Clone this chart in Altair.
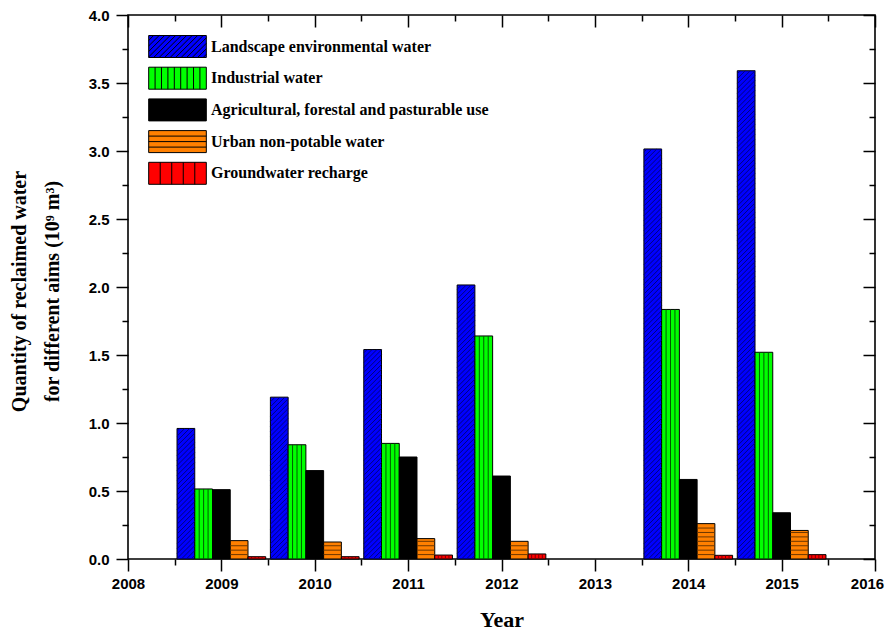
import altair as alt
import pandas as pd

# ---------------- data ----------------
years = [2009, 2010, 2011, 2012, 2014, 2015]
series_names = [
    "Landscape environmental water",
    "Industrial water",
    "Agricultural, forestal and pasturable use",
    "Urban non-potable water",
    "Groundwater recharge",
]
landscape = [0.96, 1.19, 1.54, 2.015, 3.015, 3.59]
industrial = [0.515, 0.84, 0.85, 1.64, 1.835, 1.52]
agricultural = [0.51, 0.65, 0.75, 0.61, 0.585, 0.34]
urban = [0.135, 0.125, 0.15, 0.13, 0.26, 0.21]
groundwater = [0.017, 0.017, 0.029, 0.037, 0.027, 0.032]

x_major = [2008, 2009, 2010, 2011, 2012, 2013, 2014, 2015, 2016]
x_minor = [2008.5, 2009.5, 2010.5, 2011.5, 2012.5, 2013.5, 2014.5, 2015.5]
y_major = [0.0, 0.5, 1.0, 1.5, 2.0, 2.5, 3.0, 3.5, 4.0]
y_minor = [0.25, 0.75, 1.25, 1.75, 2.25, 2.75, 3.25, 3.75]

# ---------------- styling ----------------
fill_colors = ["#0000FF", "#00FF00", "#000000", "#FF8000", "#FF0000"]
hatch_kinds = ["diag", "vgreen", "horiz", "vred"]
hatch_colors = ["#000080", "#005A00", "#6E3700", "#7A0000"]
BAR_W = 0.19          # bar width in years
GROUP_START = -0.475  # left edge of a group relative to its year

values_by_series = [landscape, industrial, agricultural, urban, groundwater]

rows = []
for i, (name, vals) in enumerate(zip(series_names, values_by_series)):
    for yr, v in zip(years, vals):
        x0 = yr + GROUP_START + BAR_W * i
        rows.append(dict(series=name, year=yr, value=v, x0=x0, x1=x0 + BAR_W))
bars_df = pd.DataFrame(rows)

# ---------------- hatch lines derived from the bars ----------------
RISE = 0.1304     # value units risen across one bar width (45 deg on screen)
DIAG_STEP = 0.036
HORIZ_STEP = 0.0325
hatch_a, hatch_b = [], []
for _, b in bars_df.iterrows():
    idx = series_names.index(b.series)
    if idx == 0:
        k = 1
        while True:
            ys = -RISE + DIAG_STEP * k - 0.01
            if ys >= b.value:
                break
            t0 = max(0.0, (0.0 - ys) / RISE)
            t1 = min(1.0, (b.value - ys) / RISE)
            if t1 > t0:
                hatch_a.append(dict(kind="diag",
                                    xa=b.x0 + t0 * BAR_W, xb=b.x0 + t1 * BAR_W,
                                    ya=ys + t0 * RISE, yb=ys + t1 * RISE))
            k += 1
    elif idx == 1:
        for f in (0.25, 0.5, 0.75):
            hatch_b.append(dict(kind="vgreen", xa=b.x0 + f * BAR_W, xb=b.x0 + f * BAR_W,
                                ya=0.0, yb=b.value))
    elif idx == 3:
        k = 1
        while HORIZ_STEP * k < b.value - 0.008:
            hatch_a.append(dict(kind="horiz", xa=b.x0, xb=b.x1,
                                ya=HORIZ_STEP * k, yb=HORIZ_STEP * k))
            k += 1
    elif idx == 4:
        for f in (0.2, 0.4, 0.6, 0.8):
            hatch_b.append(dict(kind="vred", xa=b.x0 + f * BAR_W, xb=b.x0 + f * BAR_W,
                                ya=0.0, yb=b.value))
hatch_a_df = pd.DataFrame(hatch_a)
hatch_b_df = pd.DataFrame(hatch_b)

# ---------------- legend symbol paths (box + hatch strokes) ----------------
HW = 2.62
box = f"M{-HW},-1H{HW}V1H{-HW}Z"


def diag_path():
    p = box
    c = -HW - 2 + 0.45
    while c < HW:
        xa, xb = max(-HW, c), min(HW, c + 2)
        if xb > xa:
            p += f"M{xa:.3f},{1 - (xa - c):.3f}L{xb:.3f},{1 - (xb - c):.3f}"
        c += 0.5
    return p


def vert_path(n):
    p = box
    for k in range(1, n):
        x = -HW + k * 2 * HW / n
        p += f"M{x:.3f},-1V1"
    return p


def horiz_path(n):
    p = box
    for k in range(1, n):
        y = -1 + k * 2 / n
        p += f"M{-HW},{y:.3f}H{HW}"
    return p


shape_paths = [diag_path(), vert_path(9), box, horiz_path(4), vert_path(5)]

# ---------------- scales ----------------
xscale = alt.Scale(domain=[2008, 2016], nice=False, zero=False)
yscale = alt.Scale(domain=[0, 4], nice=False)
cscale = alt.Scale(domain=series_names, range=fill_colors)
sscale = alt.Scale(domain=series_names, range=shape_paths)
hscale = alt.Scale(domain=hatch_kinds, range=hatch_colors)

TICK_FONT = "Liberation Sans"
SERIF = "Liberation Serif"


def tick_axis(orient, values, size, offset=0):
    return alt.Axis(orient=orient, values=values, tickSize=size, offset=offset,
                    labels=False, domain=False, grid=False, ticks=True,
                    tickColor="black", tickWidth=1.5, title=None)


x_axis_main = alt.Axis(
    orient="bottom", values=x_major, format="d", tickSize=12, tickWidth=1.5,
    tickColor="black", domain=False, grid=False,
    labelFont=TICK_FONT, labelFontWeight="bold", labelFontSize=15,
    labelColor="black", labelPadding=5, labelFlush=False, labelOverlap=False,
    labelOffset={"condition": {"test": "datum.value >= 2016", "value": -8}, "value": 0},
    title="Year", titleFont=SERIF, titleFontSize=22, titleFontWeight="bold",
    titleColor="black", titleY=67, titleBaseline="alphabetic",
)
y_axis_main = alt.Axis(
    orient="left", values=y_major, format=".1f", tickSize=12, tickWidth=1.5,
    tickColor="black", domain=False, grid=False,
    labelFont=TICK_FONT, labelFontWeight="bold", labelFontSize=15,
    labelColor="black", labelPadding=7, labelFlush=False, labelOverlap=False,
    title=["Quantity of reclaimed water", "for different aims (10\u2079 m\u00b3)"],
    titleFont=SERIF, titleFontSize=20, titleFontWeight="bold", titleColor="black",
    titleLineHeight=33, titleAngle=270, titleAlign="center", titleBaseline="middle",
    titleX=-109, titleY=276,
)

legend = alt.Legend(
    title=None, orient="none", legendX=38, legendY=20, direction="vertical",
    symbolSize=484, symbolStrokeColor="black", symbolStrokeWidth=1,
    labelFont=SERIF, labelFontWeight="bold", labelFontSize=16, labelColor="black",
    labelOffset=22, labelLimit=500, rowPadding=4.7, padding=0,
)

bars = alt.Chart(bars_df).mark_bar(stroke="black", strokeWidth=1, opacity=1).encode(
    x=alt.X("x0:Q", scale=xscale, axis=x_axis_main),
    x2="x1:Q",
    y=alt.Y("value:Q", scale=yscale, stack=None, axis=y_axis_main),
    y2=alt.datum(0),
    color=alt.Color("series:N", scale=cscale, legend=legend),
)

hatch_layer_a = alt.Chart(hatch_a_df).mark_rule(strokeWidth=1, opacity=1).encode(
    x=alt.X("xa:Q", scale=xscale, axis=tick_axis("bottom", x_minor, 6)),
    x2="xb:Q",
    y=alt.Y("ya:Q", scale=yscale, axis=tick_axis("left", y_minor, 6)),
    y2="yb:Q",
    stroke=alt.Stroke("kind:N", scale=hscale, legend=None),
)

hatch_layer_b = alt.Chart(hatch_b_df).mark_rule(strokeWidth=1, opacity=1).encode(
    x=alt.X("xa:Q", scale=xscale, axis=tick_axis("top", x_minor, 6, offset=-6)),
    x2="xb:Q",
    y=alt.Y("ya:Q", scale=yscale, axis=tick_axis("right", y_minor, 6, offset=-6)),
    y2="yb:Q",
    stroke=alt.Stroke("kind:N", scale=hscale, legend=None),
)

legend_layer = alt.Chart(bars_df).transform_filter("false").mark_point(
    filled=True, stroke="black", strokeWidth=1, opacity=1, size=484
).encode(
    x=alt.X("x0:Q", scale=xscale, axis=tick_axis("top", x_major, 12, offset=-12)),
    y=alt.Y("value:Q", scale=yscale, axis=tick_axis("right", y_major, 12, offset=-12)),
    color=alt.Color("series:N", scale=cscale, legend=legend),
    shape=alt.Shape("series:N", scale=sscale, legend=legend),
)

chart = alt.layer(bars, hatch_layer_a, hatch_layer_b, legend_layer).resolve_axis(
    x="independent", y="independent"
).properties(
    width=747, height=544,
    background="white",
    autosize=alt.AutoSizeParams(type="none"),
    padding={"left": 120, "top": 7, "right": 10, "bottom": 72},
).configure_view(stroke="black", strokeWidth=1.6)

chart.save("out.html", embed_options={"renderer": "svg", "actions": False})
